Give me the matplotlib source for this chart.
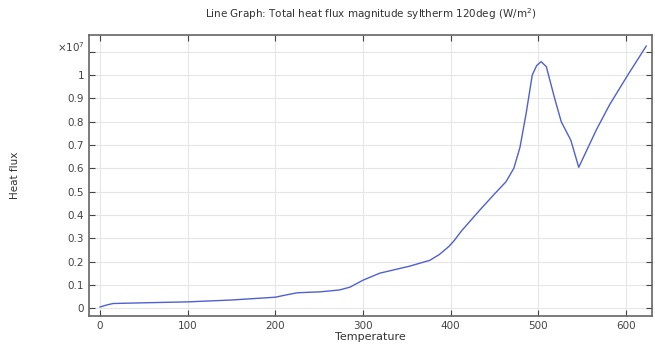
import numpy as np
import matplotlib.pyplot as plt

# temperature vs total heat flux magnitude (x 1e7 W/m^2)
temperature = [0, 8, 15, 50, 100, 150, 200, 210, 225, 251, 273, 285, 300, 319,
               336, 353, 376, 387, 398, 404, 412, 433, 450, 463, 472, 479, 486,
               493, 498, 503, 509, 518, 526, 537, 546, 566, 581, 602, 623]
heat_flux = [0.005, 0.014, 0.02, 0.023, 0.027, 0.035, 0.047, 0.055, 0.066, 0.07,
             0.078, 0.09, 0.12, 0.15, 0.165, 0.18, 0.205, 0.23, 0.265, 0.29,
             0.33, 0.42, 0.49, 0.542, 0.6, 0.69, 0.835, 1.0, 1.04, 1.057, 1.036,
             0.907, 0.80, 0.72, 0.604, 0.764, 0.871, 1.0, 1.124]

y_ticks = [0, 0.1, 0.2, 0.3, 0.4, 0.5, 0.6, 0.7, 0.8, 0.9, 1.0, 1.1]
y_labels = ['0', '0.1', '0.2', '0.3', '0.4', '0.5', '0.6', '0.7', '0.8', '0.9', '1', '']
x_ticks = [0, 100, 200, 300, 400, 500, 600]

fig = plt.figure(figsize=(6.55, 3.52), dpi=100)
ax = fig.add_axes([0.136, 0.102, 0.86, 0.799])

ax.plot(temperature, heat_flux, color='#5060d0', linewidth=1.0)

ax.set_xlim(-12.5, 630)
ax.set_ylim(-0.034, 1.172)
ax.set_xticks(x_ticks)
ax.set_yticks(y_ticks)
ax.set_yticklabels(y_labels)
ax.grid(True, color='#e6e6e6', linewidth=0.8)
ax.tick_params(direction='in', length=4, width=0.8, labelsize=7.5,
               colors='#444444', top=True, right=True)
for s in ax.spines.values():
    s.set_color('#666666')
    s.set_linewidth(1.2)

ax.set_xlabel('Temperature', fontsize=8, labelpad=1, color='#333333')
ax.set_ylabel('Heat flux', fontsize=7.5, labelpad=34, color='#333333')
ax.set_title('Line Graph: Total heat flux magnitude syltherm 120deg (W/m$^2$)',
             fontsize=7.5, pad=12, color='#333333')
fig.text(0.108, 0.866, r'$\times10^7$', fontsize=7.5, color='#444444',
         ha='center', va='center')

fig.savefig('out.png', dpi=100)
